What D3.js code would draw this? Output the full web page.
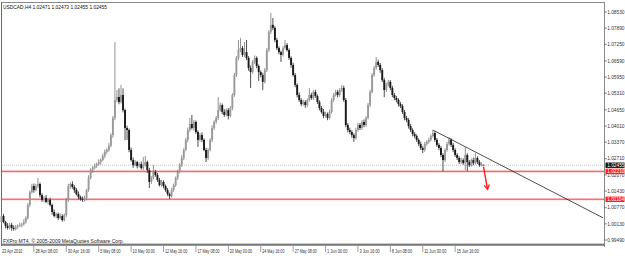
<!DOCTYPE html>
<html><head><meta charset="utf-8">
<script src="https://cdn.jsdelivr.net/npm/d3@7/dist/d3.min.js"></script>
<style>html,body{margin:0;padding:0;background:#fff;overflow:hidden}</style>
</head><body><svg id="c" width="625" height="256"></svg>
<script>
const openP=[1.0020,1.0044,1.0020,1.0005,0.9997,1.0009,0.9997,0.9993,1.0001,1.0005,
1.0009,1.0012,1.0020,1.0036,1.0088,1.0139,1.0163,1.0147,1.0163,1.0171,
1.0127,1.0108,1.0116,1.0100,1.0108,1.0088,1.0060,1.0044,1.0052,1.0036,
1.0044,1.0028,1.0048,1.0108,1.0163,1.0171,1.0159,1.0147,1.0131,1.0119,
1.0112,1.0108,1.0116,1.0147,1.0195,1.0226,1.0234,1.0242,1.0250,1.0258,
1.0266,1.0282,1.0298,1.0306,1.0322,1.0365,1.0433,1.0504,1.0516,1.0496,
1.0524,1.0464,1.0393,1.0385,1.0306,1.0266,1.0246,1.0258,1.0242,1.0250,
1.0234,1.0246,1.0258,1.0226,1.0179,1.0195,1.0219,1.0207,1.0187,1.0167,
1.0179,1.0163,1.0147,1.0131,1.0123,1.0147,1.0167,1.0195,1.0219,1.0246,
1.0274,1.0306,1.0346,1.0385,1.0409,1.0393,1.0417,1.0377,1.0346,1.0365,
1.0346,1.0306,1.0274,1.0306,1.0346,1.0393,1.0417,1.0433,1.0464,1.0484,
1.0457,1.0445,1.0464,1.0441,1.0472,1.0524,1.0603,1.0671,1.0702,1.0710,
1.0683,1.0694,1.0671,1.0631,1.0615,1.0655,1.0671,1.0639,1.0615,1.0603,
1.0576,1.0623,1.0702,1.0774,1.0802,1.0790,1.0742,1.0710,1.0694,1.0683,
1.0710,1.0722,1.0702,1.0671,1.0643,1.0603,1.0564,1.0524,1.0504,1.0488,
1.0496,1.0484,1.0504,1.0524,1.0512,1.0536,1.0520,1.0496,1.0472,1.0457,
1.0441,1.0449,1.0433,1.0457,1.0504,1.0524,1.0536,1.0524,1.0544,1.0552,
1.0504,1.0405,1.0385,1.0377,1.0365,1.0353,1.0385,1.0405,1.0393,1.0417,
1.0405,1.0433,1.0484,1.0536,1.0603,1.0631,1.0655,1.0643,1.0623,1.0583,
1.0544,1.0564,1.0576,1.0552,1.0524,1.0512,1.0504,1.0488,1.0480,1.0457,
1.0433,1.0425,1.0401,1.0385,1.0369,1.0361,1.0346,1.0330,1.0314,1.0306,
1.0330,1.0338,1.0346,1.0361,1.0373,1.0346,1.0326,1.0314,1.0286,1.0266,
1.0306,1.0330,1.0346,1.0326,1.0306,1.0286,1.0274,1.0258,1.0266,1.0254,
1.0286,1.0258,1.0246,1.0266,1.0254,1.0274,1.0258,1.0246,1.02471];
const highP=[1.0060,1.0053,1.0025,1.0016,1.0016,1.0017,1.0007,1.0009,1.0011,1.0018,
1.0017,1.0031,1.0043,1.0096,1.0145,1.0172,1.0173,1.0171,1.0195,1.0177,
1.0135,1.0124,1.0127,1.0114,1.0117,1.0093,1.0070,1.0058,1.0058,1.0055,
1.0051,1.0054,1.0116,1.0172,1.0177,1.0182,1.0166,1.0155,1.0141,1.0125,
1.0121,1.0124,1.0152,1.0206,1.0233,1.0242,1.0252,1.0256,1.0269,1.0273,
1.0290,1.0308,1.0312,1.0333,1.0372,1.0441,1.0734,1.0544,1.0550,1.0564,
1.0550,1.0470,1.0402,1.0391,1.0316,1.0276,1.0266,1.0263,1.0257,1.0260,
1.0278,1.0282,1.0264,1.0235,1.0202,1.0246,1.0227,1.0215,1.0195,1.0188,
1.0186,1.0169,1.0155,1.0137,1.0156,1.0173,1.0201,1.0228,1.0254,1.0285,
1.0313,1.0354,1.0395,1.0433,1.0445,1.0425,1.0423,1.0384,1.0373,1.0376,
1.0352,1.0315,1.0313,1.0352,1.0404,1.0424,1.0441,1.0516,1.0494,1.0490,
1.0468,1.0471,1.0472,1.0480,1.0531,1.0612,1.0678,1.0742,1.0750,1.0718,
1.0734,1.0742,1.0678,1.0641,1.0662,1.0681,1.0677,1.0645,1.0621,1.0612,
1.0631,1.0710,1.0781,1.0849,1.0829,1.0797,1.0750,1.0717,1.0700,1.0718,
1.0742,1.0730,1.0709,1.0677,1.0652,1.0611,1.0570,1.0534,1.0511,1.0505,
1.0503,1.0510,1.0552,1.0533,1.0543,1.0545,1.0526,1.0503,1.0480,1.0468,
1.0457,1.0455,1.0466,1.0511,1.0532,1.0545,1.0544,1.0551,1.0564,1.0561,
1.0512,1.0413,1.0394,1.0384,1.0372,1.0394,1.0414,1.0413,1.0425,1.0427,
1.0440,1.0492,1.0545,1.0611,1.0639,1.0675,1.0664,1.0651,1.0630,1.0592,
1.0573,1.0584,1.0583,1.0560,1.0532,1.0520,1.0511,1.0496,1.0487,1.0465,
1.0441,1.0432,1.0409,1.0392,1.0377,1.0368,1.0352,1.0339,1.0321,1.0338,
1.0345,1.0355,1.0368,1.0385,1.0380,1.0353,1.0333,1.0322,1.0293,1.0313,
1.0338,1.0357,1.0353,1.0334,1.0313,1.0293,1.0281,1.0275,1.0273,1.0318,
1.0293,1.0266,1.0272,1.0276,1.0294,1.0281,1.0266,1.0257,1.02473];
const lowP=[1.0010,1.0015,0.9995,0.9990,0.9991,0.9986,0.9986,0.9987,0.9993,1.0000,
0.9999,1.0005,1.0014,1.0030,1.0079,1.0133,1.0136,1.0142,1.0155,1.0118,
1.0100,1.0098,1.0095,1.0090,1.0082,1.0049,1.0039,1.0035,1.0028,1.0031,
1.0022,1.0022,1.0041,1.0100,1.0152,1.0152,1.0136,1.0126,1.0110,1.0105,
1.0100,1.0101,1.0106,1.0140,1.0189,1.0215,1.0229,1.0235,1.0244,1.0247,
1.0261,1.0273,1.0290,1.0299,1.0316,1.0354,1.0424,1.0495,1.0487,1.0490,
1.0455,1.0345,1.0346,1.0297,1.0260,1.0235,1.0241,1.0233,1.0236,1.0228,
1.0226,1.0240,1.0215,1.0155,1.0171,1.0189,1.0200,1.0179,1.0161,1.0160,
1.0154,1.0140,1.0124,1.0112,1.0117,1.0140,1.0159,1.0187,1.0213,1.0239,
1.0266,1.0301,1.0336,1.0378,1.0387,1.0382,1.0370,1.0318,1.0340,1.0337,
1.0301,1.0258,1.0265,1.0300,1.0337,1.0385,1.0410,1.0425,1.0458,1.0448,
1.0437,1.0439,1.0427,1.0435,1.0463,1.0517,1.0595,1.0662,1.0694,1.0675,
1.0674,1.0662,1.0620,1.0552,1.0608,1.0648,1.0630,1.0580,1.0594,1.0544,
1.0570,1.0615,1.0695,1.0766,1.0781,1.0733,1.0702,1.0685,1.0655,1.0676,
1.0704,1.0696,1.0663,1.0632,1.0597,1.0555,1.0514,1.0497,1.0480,1.0482,
1.0473,1.0477,1.0498,1.0505,1.0504,1.0513,1.0488,1.0463,1.0450,1.0432,
1.0434,1.0424,1.0427,1.0450,1.0497,1.0518,1.0515,1.0517,1.0536,1.0497,
1.0396,1.0376,1.0369,1.0354,1.0338,1.0347,1.0379,1.0385,1.0386,1.0396,
1.0398,1.0427,1.0476,1.0530,1.0596,1.0624,1.0635,1.0612,1.0575,1.0516,
1.0536,1.0557,1.0543,1.0515,1.0503,1.0495,1.0478,1.0472,1.0449,1.0424,
1.0416,1.0391,1.0377,1.0360,1.0352,1.0338,1.0321,1.0306,1.0294,1.0299,
1.0323,1.0331,1.0340,1.0355,1.0338,1.0318,1.0305,1.0278,1.0222,1.0258,
1.0299,1.0323,1.0318,1.0297,1.0279,1.0266,1.0250,1.0250,1.0247,1.0226,
1.0222,1.0238,1.0240,1.0245,1.0248,1.0250,1.0239,1.0241,1.02455];
const closeP=[1.0044,1.0020,1.0005,0.9997,1.0009,0.9997,0.9993,1.0001,1.0005,1.0009,
1.0012,1.0020,1.0036,1.0088,1.0139,1.0163,1.0147,1.0163,1.0171,1.0127,
1.0108,1.0116,1.0100,1.0108,1.0088,1.0060,1.0044,1.0052,1.0036,1.0044,
1.0028,1.0048,1.0108,1.0163,1.0171,1.0159,1.0147,1.0131,1.0119,1.0112,
1.0108,1.0116,1.0147,1.0195,1.0226,1.0234,1.0242,1.0250,1.0258,1.0266,
1.0282,1.0298,1.0306,1.0322,1.0365,1.0433,1.0504,1.0516,1.0496,1.0524,
1.0464,1.0393,1.0385,1.0306,1.0266,1.0246,1.0258,1.0242,1.0250,1.0234,
1.0246,1.0258,1.0226,1.0179,1.0195,1.0219,1.0207,1.0187,1.0167,1.0179,
1.0163,1.0147,1.0131,1.0123,1.0147,1.0167,1.0195,1.0219,1.0246,1.0274,
1.0306,1.0346,1.0385,1.0409,1.0393,1.0417,1.0377,1.0346,1.0365,1.0346,
1.0306,1.0274,1.0306,1.0346,1.0393,1.0417,1.0433,1.0464,1.0484,1.0457,
1.0445,1.0464,1.0441,1.0472,1.0524,1.0603,1.0671,1.0702,1.0710,1.0683,
1.0694,1.0671,1.0631,1.0615,1.0655,1.0671,1.0639,1.0615,1.0603,1.0576,
1.0623,1.0702,1.0774,1.0802,1.0790,1.0742,1.0710,1.0694,1.0683,1.0710,
1.0722,1.0702,1.0671,1.0643,1.0603,1.0564,1.0524,1.0504,1.0488,1.0496,
1.0484,1.0504,1.0524,1.0512,1.0536,1.0520,1.0496,1.0472,1.0457,1.0441,
1.0449,1.0433,1.0457,1.0504,1.0524,1.0536,1.0524,1.0544,1.0552,1.0504,
1.0405,1.0385,1.0377,1.0365,1.0353,1.0385,1.0405,1.0393,1.0417,1.0405,
1.0433,1.0484,1.0536,1.0603,1.0631,1.0655,1.0643,1.0623,1.0583,1.0544,
1.0564,1.0576,1.0552,1.0524,1.0512,1.0504,1.0488,1.0480,1.0457,1.0433,
1.0425,1.0401,1.0385,1.0369,1.0361,1.0346,1.0330,1.0314,1.0306,1.0330,
1.0338,1.0346,1.0361,1.0373,1.0346,1.0326,1.0314,1.0286,1.0266,1.0306,
1.0330,1.0346,1.0326,1.0306,1.0286,1.0274,1.0258,1.0266,1.0254,1.0286,
1.0258,1.0246,1.0266,1.0254,1.0274,1.0258,1.0246,1.0250,1.02455];

const priceTicks=[1.08530,1.07890,1.07250,1.06590,1.05950,1.05310,1.04650,1.04010,1.03370,1.02710,1.02070,1.01430,1.00770,1.00130,0.99490];
const timeLabels=["23 Apr 2010","28 Apr 08:00","30 Apr 16:00","5 May 08:00","10 May 00:00","12 May 16:00","17 May 08:00","20 May 00:00","24 May 16:00","27 May 08:00","1 Jun 00:00","3 Jun 16:00","8 Jun 08:00","11 Jun 00:00","15 Jun 16:00"];
const timeLabelIdx=[0,16,32,48,64,80,96,112,128,144,160,176,192,208,224];
const bidPrice=1.02455;
const levels=[1.02210,1.01104];
const trendLine=[[213,1.0385],[297,1.0037]];
const arrowPts=[[238,1.0240],[240,1.0150]];
const title="USDCAD,H4  1.02471 1.02473 1.02455 1.02455";
const copyright="FXPro MT4, \u00a9 2005-2009 MetaQuotes Software Corp.";

const svg=d3.select("#c");
const x=d3.scaleLinear().domain([0,238]).range([1.5,483.5]);
const y=d3.scaleLinear().domain([0.99490,1.08530]).range([240,12]);
const FONT="'Liberation Sans', Arial, sans-serif";
const n=closeP.length;
const bars=d3.range(n).map(i=>({i,o:openP[i],h:highP[i],l:lowP[i],c:closeP[i]}));

// frame
svg.append("rect").attr("x",0).attr("y",0).attr("width",625).attr("height",256).attr("fill","#fff");
svg.append("line").attr("x1",1).attr("x2",604).attr("y1",2.5).attr("y2",2.5).attr("stroke","#8a8a8a").attr("stroke-width",1);
svg.append("line").attr("x1",1.5).attr("x2",1.5).attr("y1",2).attr("y2",246).attr("stroke","#6a6a6a").attr("stroke-width",1);
svg.append("line").attr("x1",604.5).attr("x2",604.5).attr("y1",2).attr("y2",247).attr("stroke","#8a8a8a").attr("stroke-width",1);

// bid line
svg.append("line").attr("x1",2).attr("x2",604).attr("y1",y(bidPrice)).attr("y2",y(bidPrice))
  .attr("stroke","#c9c6b2").attr("stroke-width",1).attr("stroke-dasharray","1,1");

// red levels
const lv=svg.append("g");
levels.forEach(v=>{
  lv.append("line").attr("x1",2).attr("x2",604).attr("y1",y(v)).attr("y2",y(v)).attr("stroke","#ffd2d2").attr("stroke-width",2.6);
  lv.append("line").attr("x1",2).attr("x2",604).attr("y1",y(v)).attr("y2",y(v)).attr("stroke","#f04a4a").attr("stroke-width",0.9);
});

// candles
const g=svg.append("g");
g.selectAll("line.w").data(bars).join("line").attr("class","w")
  .attr("x1",d=>x(d.i)).attr("x2",d=>x(d.i)).attr("y1",d=>y(d.h)).attr("y2",d=>y(d.l))
  .attr("stroke",d=>d.c>=d.o?"#777":"#222").attr("stroke-width",0.8);
g.selectAll("rect.b").data(bars).join("rect").attr("class","b")
  .attr("x",d=>x(d.i)-0.95).attr("width",1.9)
  .attr("y",d=>y(Math.max(d.o,d.c))).attr("height",d=>Math.max(0.7,Math.abs(y(d.o)-y(d.c))))
  .attr("fill",d=>d.c>=d.o?"#9a9a9a":"#1a1a1a");

// trend line
svg.append("line").attr("x1",x(trendLine[0][0])).attr("y1",y(trendLine[0][1]))
  .attr("x2",x(trendLine[1][0])).attr("y2",y(trendLine[1][1])).attr("stroke","#222").attr("stroke-width",0.8);

// arrow
const ax1=x(arrowPts[0][0]),ay1=y(arrowPts[0][1]),ax2=x(arrowPts[1][0]),ay2=y(arrowPts[1][1]);
svg.append("line").attr("x1",ax1).attr("y1",ay1).attr("x2",ax2).attr("y2",ay2).attr("stroke","#ff1a1a").attr("stroke-width",1.4);
const ang=Math.atan2(ay2-ay1,ax2-ax1);
const hl=4.5,hw=2.6;
const p1=[ax2-hl*Math.cos(ang)+hw*Math.sin(ang), ay2-hl*Math.sin(ang)-hw*Math.cos(ang)];
const p2=[ax2-hl*Math.cos(ang)-hw*Math.sin(ang), ay2-hl*Math.sin(ang)+hw*Math.cos(ang)];
svg.append("path").attr("d",`M${p1[0]},${p1[1]}L${ax2},${ay2}L${p2[0]},${p2[1]}`)
  .attr("fill","none").attr("stroke","#ff1a1a").attr("stroke-width",1.3);

// price axis
const pa=svg.append("g");
priceTicks.forEach(v=>{
  pa.append("line").attr("x1",604).attr("x2",607).attr("y1",y(v)).attr("y2",y(v)).attr("stroke","#666").attr("stroke-width",0.8);
  pa.append("text").attr("x",607.2).attr("y",y(v)+1.7).attr("font-family",FONT).attr("font-size",4.8)
    .attr("fill","#333").text(v.toFixed(5));
});
function priceBox(v,bg){
  pa.append("rect").attr("x",605.5).attr("y",y(v)-2.7).attr("width",19).attr("height",5.4).attr("fill",bg);
  pa.append("text").attr("x",607.2).attr("y",y(v)+1.7).attr("font-family",FONT).attr("font-size",4.8)
    .attr("fill","#fff").text(v.toFixed(5));
}
priceBox(bidPrice,"#111");
levels.forEach(v=>priceBox(v,"#ff1e1e"));

// bottom border
svg.append("rect").attr("x",1).attr("y",243.6).attr("width",604).attr("height",2.2).attr("fill","#7a7a7a");

// time axis
const ta=svg.append("g");
timeLabelIdx.forEach((idx,k)=>{
  const xx=x(idx);
  if(k>0) ta.append("line").attr("x1",xx).attr("x2",xx).attr("y1",246).attr("y2",252).attr("stroke","#777").attr("stroke-width",0.7);
  const t=timeLabels[k];
  ta.append("text").attr("x",k===0?2:xx+1.5).attr("y",252.8).attr("font-family",FONT).attr("font-size",5.6)
    .attr("textLength",t.length*1.85).attr("lengthAdjust","spacingAndGlyphs").attr("fill","#333").text(t);
});

// title & copyright
svg.append("text").attr("x",3).attr("y",8.5).attr("font-family",FONT).attr("font-size",5.8)
  .attr("textLength",104).attr("lengthAdjust","spacingAndGlyphs").attr("fill","#111").text(title);
svg.append("text").attr("x",3).attr("y",243.2).attr("font-family",FONT).attr("font-size",5.4)
  .attr("textLength",121).attr("lengthAdjust","spacingAndGlyphs").attr("fill","#222").text(copyright);
</script></body></html>
